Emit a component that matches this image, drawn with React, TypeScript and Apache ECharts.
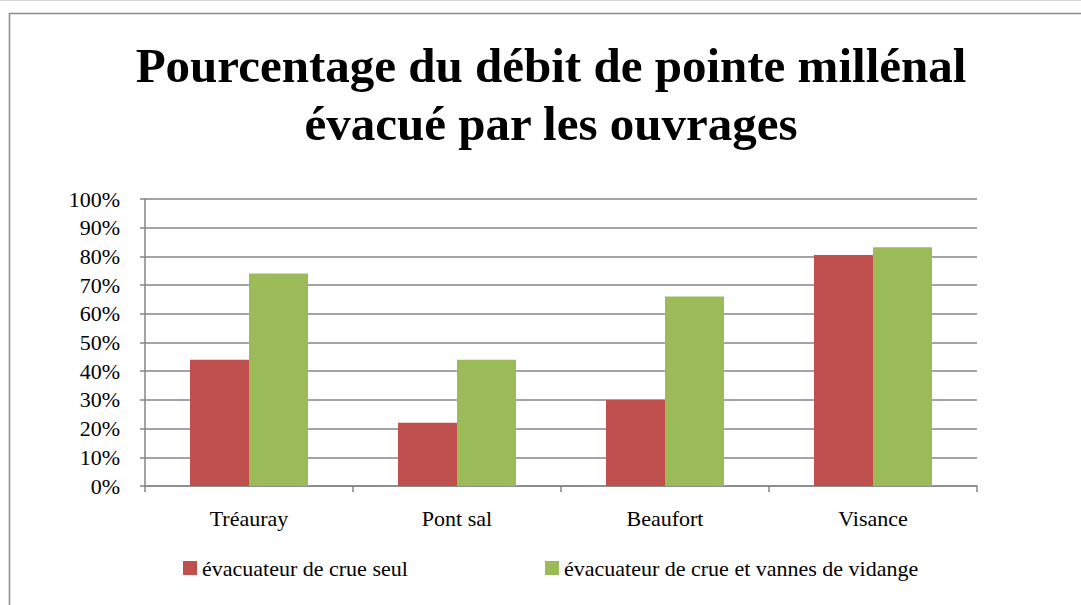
import React, { useEffect, useRef } from "react";
import * as echarts from "echarts";

const titleLines = ["Pourcentage du débit de pointe millénal", "évacué par les ouvrages"];
const categories = ["Tréauray", "Pont sal", "Beaufort", "Visance"];
const seriesNames = ["évacuateur de crue seul", "évacuateur de crue et vannes de vidange"];
const seulValues = [44, 22, 30, 80.5];
const vannesValues = [74, 44, 66, 83.2];
const yTicks = [0, 10, 20, 30, 40, 50, 60, 70, 80, 90, 100];

const SERIF = "Liberation Serif";

export default function App() {
  const ref = useRef<HTMLDivElement>(null);
  useEffect(() => {
    if (!ref.current) return;
    const chart = echarts.init(ref.current, undefined, { renderer: "svg" });
    const gray = "#868686";
    chart.setOption({
      animation: false,
      backgroundColor: "#ffffff",
      textStyle: { fontFamily: SERIF },
      graphic: [
        { type: "line", shape: { x1: 0, y1: 0.5, x2: 1081, y2: 0.5 }, style: { stroke: "#d4d4d4", lineWidth: 1 } },
        { type: "rect", shape: { x: 9.5, y: 13.5, width: 1100, height: 700 }, style: { fill: "none", stroke: "#8c8c8c", lineWidth: 1.5 } },
        {
          type: "text",
          x: 551,
          y: 36,
          style: {
            text: titleLines.join("\n"),
            textAlign: "center",
            textVerticalAlign: "top",
            fontFamily: SERIF,
            fontWeight: "bold",
            fontSize: 49,
            lineHeight: 58,
            fill: "#000000",
          },
        },
      ],
      color: ["#C0504D", "#9BBB59"],
      grid: { left: 145, right: 104, top: 199, bottom: 119, containLabel: false },
      legend: [
        {
          data: [seriesNames[0]],
          left: 183,
          top: 557,
          padding: 0,
          itemWidth: 14,
          itemHeight: 14,
          itemGap: 7,
          icon: "rect",
          textStyle: { fontFamily: SERIF, fontSize: 22, color: "#000" },
        },
        {
          data: [seriesNames[1]],
          left: 545,
          top: 557,
          padding: 0,
          itemWidth: 14,
          itemHeight: 14,
          itemGap: 7,
          icon: "rect",
          textStyle: { fontFamily: SERIF, fontSize: 22, color: "#000" },
        },
      ],
      xAxis: {
        type: "category",
        data: categories,
        axisLine: { show: true, lineStyle: { color: gray, width: 1.5 } },
        axisTick: { show: true, length: 6, lineStyle: { color: gray, width: 1.5 } },
        axisLabel: { fontFamily: SERIF, fontSize: 22, color: "#000", margin: 21 },
      },
      yAxis: {
        type: "value",
        min: yTicks[0],
        max: yTicks[yTicks.length - 1],
        interval: 10,
        axisLine: { show: true, lineStyle: { color: gray, width: 1.5 } },
        axisTick: { show: true, length: 5, lineStyle: { color: gray, width: 1.5 } },
        splitLine: { show: true, lineStyle: { color: gray, width: 1.5 } },
        axisLabel: {
          fontFamily: SERIF,
          fontSize: 22,
          color: "#000",
          margin: 25,
          formatter: (v: number) => `${v}%`,
        },
      },
      series: [
        { name: seriesNames[0], type: "bar", data: seulValues, barWidth: 59, barGap: "0%" },
        { name: seriesNames[1], type: "bar", data: vannesValues, barWidth: 59, barGap: "0%" },
      ],
    });
    return () => chart.dispose();
  }, []);
  return <div ref={ref} style={{ position: "fixed", left: 0, top: 0, width: 1081, height: 605 }} />;
}
